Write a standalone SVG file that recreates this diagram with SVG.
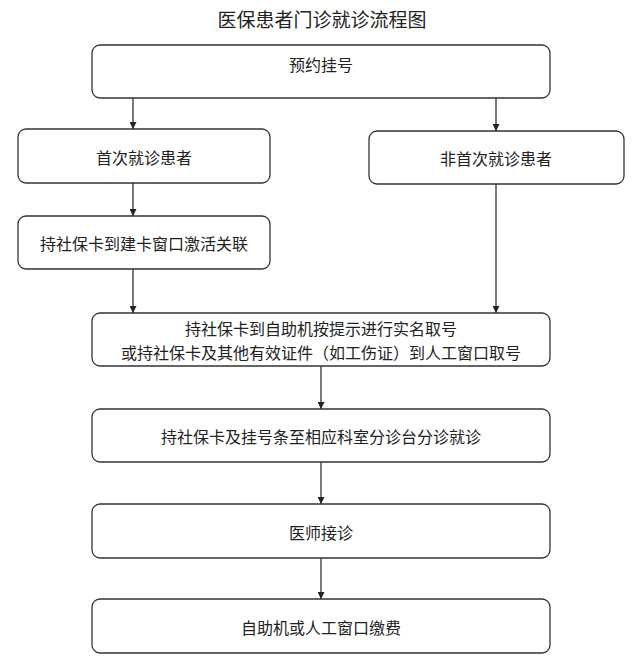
<svg xmlns="http://www.w3.org/2000/svg" width="640" height="666" viewBox="0 0 640 666">
<defs>
<marker id="arr" viewBox="0 0 10 10" refX="10" refY="5" markerWidth="7" markerHeight="7" markerUnits="userSpaceOnUse" orient="auto">
<path d="M0,0 L10,5 L0,10 z" fill="#222"/>
</marker>
<style>
.box{fill:#fff;stroke:#333;stroke-width:1.3}
.t{font-family:"Noto Sans CJK SC","Noto Sans",sans-serif;font-size:16px;fill:#222;text-anchor:middle;dominant-baseline:central}
.title{font-family:"Noto Sans CJK SC","Noto Sans",sans-serif;font-size:19px;fill:#222;text-anchor:middle;dominant-baseline:central}
.c{stroke:#222;stroke-width:1.2;fill:none;marker-end:url(#arr)}
</style>
</defs>
<rect width="640" height="666" fill="#fff"/>
<text class="title" x="322" y="18">医保患者门诊就诊流程图</text>
<g id="connectors">
<line class="c" x1="133" y1="98" x2="133" y2="129"/>
<line class="c" x1="496" y1="98" x2="496" y2="131"/>
<line class="c" x1="133" y1="183" x2="133" y2="216"/>
<line class="c" x1="133" y1="269" x2="133" y2="313"/>
<line class="c" x1="496" y1="184" x2="496" y2="313"/>
<line class="c" x1="321" y1="366" x2="321" y2="409"/>
<line class="c" x1="321" y1="462" x2="321" y2="504"/>
<line class="c" x1="321" y1="558" x2="321" y2="599"/>
</g>
<g id="n1"><rect class="box" x="92" y="45" width="458" height="53" rx="8"/><text class="t" x="321" y="64">预约挂号</text></g>
<g id="n2"><rect class="box" x="18" y="129" width="252" height="54" rx="8"/><text class="t" x="144" y="157">首次就诊患者</text></g>
<g id="n3"><rect class="box" x="369" y="131" width="255" height="53" rx="8"/><text class="t" x="496" y="158">非首次就诊患者</text></g>
<g id="n4"><rect class="box" x="18" y="216" width="252" height="53" rx="8"/><text class="t" x="144" y="243">持社保卡到建卡窗口激活关联</text></g>
<g id="n5"><rect class="box" x="92" y="313" width="458" height="53" rx="8"/><text class="t" x="321" y="328">持社保卡到自助机按提示进行实名取号</text><text class="t" x="321" y="352">或持社保卡及其他有效证件（如工伤证）到人工窗口取号</text></g>
<g id="n6"><rect class="box" x="92" y="409" width="458" height="53" rx="8"/><text class="t" x="321" y="436">持社保卡及挂号条至相应科室分诊台分诊就诊</text></g>
<g id="n7"><rect class="box" x="92" y="504" width="458" height="54" rx="8"/><text class="t" x="321" y="532">医师接诊</text></g>
<g id="n8"><rect class="box" x="92" y="599" width="458" height="54" rx="8"/><text class="t" x="321" y="627">自助机或人工窗口缴费</text></g>
</svg>
